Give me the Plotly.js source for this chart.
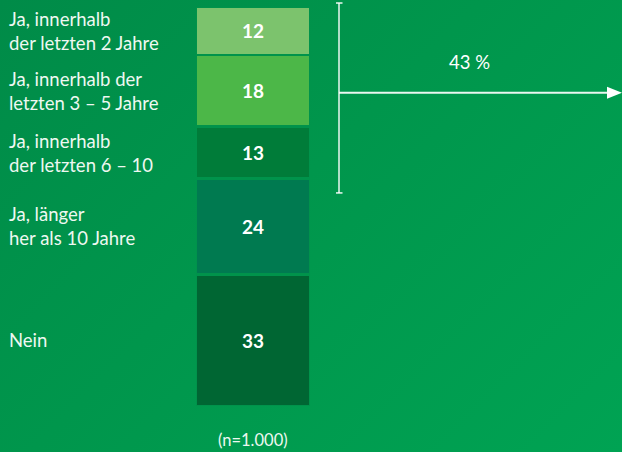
<!DOCTYPE html>
<html>
<head>
<meta charset="utf-8">
<script src="https://cdn.plot.ly/plotly-3.0.1.min.js"></script>
<style>
  html, body { margin: 0; padding: 0; }
  body {
    width: 622px; height: 452px; overflow: hidden;
    background: linear-gradient(135deg, #008b48 0%, #00964c 45%, #00a353 100%);
  }
  #chart { width: 622px; height: 452px; }
</style>
</head>
<body>
<div id="chart"></div>
<script>
// Data (top to bottom as shown)
const categories = [
  "Ja, innerhalb<br>der letzten 2 Jahre",
  "Ja, innerhalb der<br>letzten 3 – 5 Jahre",
  "Ja, innerhalb<br>der letzten 6 – 10",
  "Ja, länger<br>her als 10 Jahre",
  "Nein"
];
const values = [12, 18, 13, 24, 33];
const colors = ["#7cc36d", "#4cb748", "#007c39", "#007a50", "#006633"];
const bracketLabel = "43 %";
const bracketSum = values[0] + values[1] + values[2];
const sampleNote = "(n=1.000)";

const total = values.reduce((a, b) => a + b, 0);
const yMax = 100;
const yP = v => v / yMax;           // data value -> paper fraction (range 0..100)
const px = (p) => (p - 196) / 114;  // page pixel -> paper x (plot spans 196..310)

// Draw bottom-to-top
const order = [...values.keys()].reverse();
const traces = order.map(i => ({
  type: "bar",
  x: [0],
  y: [values[i]],
  width: [1],
  name: categories[i],
  marker: { color: colors[i], line: { color: "#00934b", width: 2.5 } },
  text: [String(values[i])],
  textposition: "inside",
  insidetextanchor: "middle",
  textfont: { family: "Lato, 'Open Sans', sans-serif", size: 19, color: "#ffffff", weight: 700 },
  hoverinfo: "skip",
  showlegend: false
}));

// Label annotations centered on each segment
const annotations = [];
let cursorY = total;
values.forEach((v, i) => {
  const center = cursorY - v / 2;
  annotations.push({
    xref: "paper", yref: "paper",
    x: px(7), y: yP(center),
    xanchor: "left", yanchor: "middle", align: "left",
    text: categories[i], showarrow: false,
    font: { family: "Lato, 'Open Sans', sans-serif", size: 18.5, color: "#eef8f1" }
  });
  cursorY -= v;
});

const arrowY = yP(total - bracketSum / 2);
annotations.push({
  xref: "paper", yref: "paper",
  x: px(469), y: arrowY + 0.077,
  xanchor: "center", yanchor: "middle",
  text: bracketLabel, showarrow: false,
  font: { family: "Lato, 'Open Sans', sans-serif", size: 18.5, color: "#ffffff" }
});
annotations.push({
  xref: "paper", yref: "paper",
  x: 0.5, y: -0.085,
  xanchor: "center", yanchor: "middle",
  text: sampleNote, showarrow: false,
  font: { family: "Lato, 'Open Sans', sans-serif", size: 16.5, color: "#eef8f1" }
});

const bx = px(339);
const bTop = yP(total + 1);
const bBot = yP(total - bracketSum - 3.6);
const lineStyle = { color: "rgba(255,255,255,0.92)", width: 1.5 };
const shapes = [
  { type: "line", xref: "paper", yref: "paper", x0: bx, x1: bx, y0: bBot, y1: bTop, line: lineStyle },
  { type: "line", xref: "paper", yref: "paper", x0: px(336), x1: px(342.5), y0: bTop, y1: bTop, line: lineStyle },
  { type: "line", xref: "paper", yref: "paper", x0: px(336), x1: px(342.5), y0: bBot, y1: bBot, line: lineStyle },
  { type: "line", xref: "paper", yref: "paper", x0: bx, x1: px(608), y0: arrowY, y1: arrowY,
    line: { color: "rgba(255,255,255,0.92)", width: 2 } },
  { type: "path", xref: "paper", yref: "paper",
    path: `M ${px(607)} ${arrowY + 6/399} L ${px(622)} ${arrowY} L ${px(607)} ${arrowY - 6/399} Z`,
    fillcolor: "#ffffff", line: { width: 0 } }
];

const layout = {
  width: 622, height: 452,
  margin: { l: 196, r: 312, t: 7, b: 46, pad: 0 },
  paper_bgcolor: "rgba(0,0,0,0)",
  plot_bgcolor: "rgba(0,0,0,0)",
  barmode: "stack",
  bargap: 0,
  xaxis: { range: [-0.5, 0.5], visible: false, fixedrange: true },
  yaxis: { range: [0, yMax], visible: false, fixedrange: true },
  annotations: annotations,
  shapes: shapes,
  showlegend: false
};

Plotly.newPlot("chart", traces, layout, { displayModeBar: false, staticPlot: true });
</script>
</body>
</html>
